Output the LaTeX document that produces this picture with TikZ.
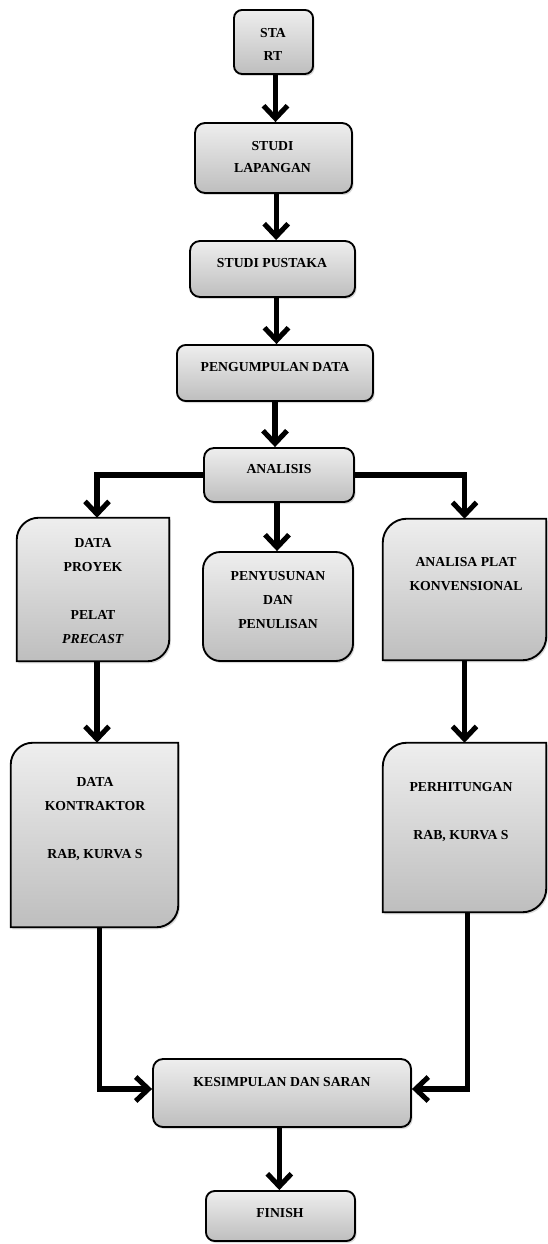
\documentclass[tikz,border=0pt]{standalone}
\usepackage{fontspec}
\setmainfont{Liberation Serif}
\usetikzlibrary{arrows.meta,shadows,fit}
\definecolor{boxtop}{RGB}{238,238,238}
\definecolor{boxbot}{RGB}{190,190,190}
\tikzset{
  boxbase/.style={draw=black, line width=1.4pt, top color=boxtop, bottom color=boxbot,
    drop shadow={opacity=0.3, shadow xshift=1.2pt, shadow yshift=-1.5pt}},
  rbox/.style={boxbase, rectangle, rounded corners=#1, inner sep=0pt},
  hold/.style={inner sep=0pt, rectangle},
  txt/.style={font=\bfseries\fontsize{10.3}{18}\selectfont, align=center, inner sep=0pt},
  txtsm/.style={font=\bfseries\fontsize{10.3}{17}\selectfont, align=center, inner sep=0pt},
  flow/.style={line width=3.8pt, -{Straight Barb[length=9.5pt,width=18pt]}},
}
\begin{document}
\begin{tikzpicture}[x=0.75pt,y=0.75pt]
\useasboundingbox (0,0) rectangle (547,-1244);

% simple rounded boxes
\node[rbox=6pt, fit={(234,-10) (313,-74)}] (start) {};
\node[txtsm] (startt) at (273,-44.5) {STA\\RT};

\node[rbox=7.5pt, fit={(195,-123) (352,-193)}] (sl) {};
\node[txtsm] (slt) at (272.5,-157) {STUDI\\LAPANGAN};

\node[rbox=7.5pt, fit={(190,-241) (355,-297)}] (sp) {};
\node[txt] (spt) at (272,-263) {STUDI PUSTAKA};

\node[rbox=6.5pt, fit={(177,-345) (373,-401)}] (pd) {};
\node[txt] (pdt) at (275,-367) {PENGUMPULAN DATA};

\node[rbox=7.5pt, fit={(204,-448) (354,-502)}] (an) {};
\node[txt] (ant) at (279,-469) {ANALISIS};

\node[rbox=13pt, fit={(203,-552) (353,-661)}] (py) {};
\node[txt] (pyt) at (278,-600) {PENYUSUNAN\\DAN\\PENULISAN};

\node[rbox=7.5pt, fit={(153,-1059) (411,-1127)}] (kes) {};
\node[txt] (kest) at (282,-1082) {KESIMPULAN DAN SARAN};

\node[rbox=6.5pt, fit={(206,-1191) (355,-1241)}] (fin) {};
\node[txt] (fint) at (280,-1213) {FINISH};

% diagonal-rounded boxes
\node[hold, fit={(17,-518) (169,-661)}] (dp) {};
\path[boxbase] (dp.south west) -- ([yshift=-16.5pt]dp.north west)
  arc[start angle=180,end angle=90,radius=16.5pt] -- (dp.north east)
  -- ([yshift=16.5pt]dp.south east) arc[start angle=0,end angle=-90,radius=16.5pt] -- cycle;
\node[txt] (dpt) at (93,-591) {DATA\\PROYEK\\[18pt]PELAT\\\textit{PRECAST}};

\node[hold, fit={(383,-519) (546,-660)}] (ap) {};
\path[boxbase] (ap.south west) -- ([yshift=-18pt]ap.north west)
  arc[start angle=180,end angle=90,radius=18pt] -- (ap.north east)
  -- ([yshift=18pt]ap.south east) arc[start angle=0,end angle=-90,radius=18pt] -- cycle;
\node[txt] (apt) at (466,-574) {ANALISA PLAT\\KONVENSIONAL};

\node[hold, fit={(11,-743) (178,-927)}] (dk) {};
\path[boxbase] (dk.south west) -- ([yshift=-16.5pt]dk.north west)
  arc[start angle=180,end angle=90,radius=16.5pt] -- (dk.north east)
  -- ([yshift=16.5pt]dk.south east) arc[start angle=0,end angle=-90,radius=16.5pt] -- cycle;
\node[txt] (dkt) at (95,-819.5) {DATA\\KONTRAKTOR\\[18pt]RAB, KURVA S};

\node[hold, fit={(383,-743) (546,-912)}] (ph) {};
\path[boxbase] (ph.south west) -- ([yshift=-18pt]ph.north west)
  arc[start angle=180,end angle=90,radius=18pt] -- (ph.north east)
  -- ([yshift=18pt]ph.south east) arc[start angle=0,end angle=-90,radius=18pt] -- cycle;
\node[txt] (pht) at (461,-812) {PERHITUNGAN\\[18pt]RAB, KURVA S};

% connectors
\draw[flow] ([xshift=1.5pt]start.south) -- ([xshift=1.5pt]start.south |- sl.north);
\draw[flow] ([xshift=2pt]sl.south) -- ([xshift=2pt]sl.south |- sp.north);
\draw[flow] ([xshift=3pt]sp.south) -- ([xshift=3pt]sp.south |- pd.north);
\draw[flow] (pd.south) -- (pd.south |- an.north);
\draw[flow] (an.west) -| ([xshift=3pt]dp.north);
\draw[flow] (an.east) -| (ap.north);
\draw[flow] ([xshift=-1.5pt]an.south) -- ([xshift=-1.5pt]an.south |- py.north);
\draw[flow] ([xshift=3pt]dp.south) -- ([xshift=3pt]dp.south |- dk.north);
\draw[flow] (ap.south) -- (ap.south |- ph.north);
\draw[flow] ([xshift=4pt]dk.south) |- ([yshift=3pt]kes.west);
\draw[flow] ([xshift=2pt]ph.south) |- ([yshift=3pt]kes.east);
\draw[flow] ([xshift=-2pt]kes.south) -- ([xshift=-2pt]kes.south |- fin.north);
\end{tikzpicture}
\end{document}
